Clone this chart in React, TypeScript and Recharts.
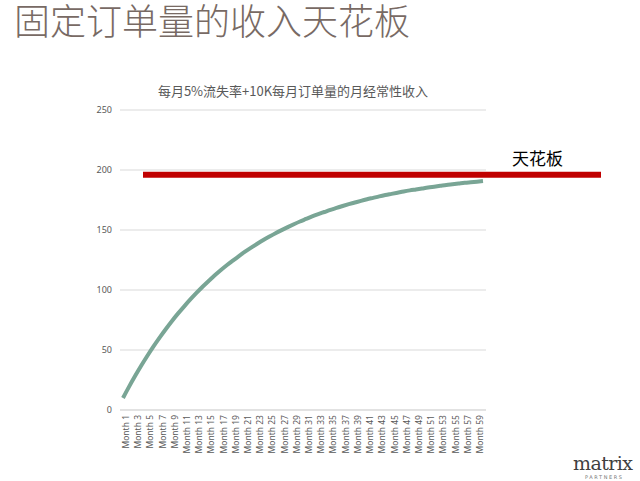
import { LineChart, Line, XAxis, YAxis, CartesianGrid, ReferenceLine } from 'recharts';

const months = [
  'Month 1', 'Month 2', 'Month 3', 'Month 4', 'Month 5', 'Month 6', 'Month 7', 'Month 8', 'Month 9', 'Month 10',
  'Month 11', 'Month 12', 'Month 13', 'Month 14', 'Month 15', 'Month 16', 'Month 17', 'Month 18', 'Month 19', 'Month 20',
  'Month 21', 'Month 22', 'Month 23', 'Month 24', 'Month 25', 'Month 26', 'Month 27', 'Month 28', 'Month 29', 'Month 30',
  'Month 31', 'Month 32', 'Month 33', 'Month 34', 'Month 35', 'Month 36', 'Month 37', 'Month 38', 'Month 39', 'Month 40',
  'Month 41', 'Month 42', 'Month 43', 'Month 44', 'Month 45', 'Month 46', 'Month 47', 'Month 48', 'Month 49', 'Month 50',
  'Month 51', 'Month 52', 'Month 53', 'Month 54', 'Month 55', 'Month 56', 'Month 57', 'Month 58', 'Month 59', 'Month 60',
];

// monthly recurring revenue
const mrr = [
  10, 19.5, 28.5, 37.1, 45.2, 53.0, 60.3, 67.3, 74.0, 80.3,
  86.2, 91.9, 97.3, 102.5, 107.3, 112.0, 116.4, 120.6, 124.5, 128.3,
  131.9, 135.3, 138.5, 141.6, 144.5, 147.3, 149.9, 152.4, 154.8, 157.1,
  159.2, 161.3, 163.2, 165.0, 166.8, 168.4, 170.0, 171.5, 172.9, 174.3,
  175.6, 176.8, 178.0, 179.1, 180.1, 181.1, 182.1, 183.0, 183.8, 184.6,
  185.4, 186.1, 186.8, 187.5, 188.1, 188.7, 189.3, 189.8, 190.3, 190.8,
];

const yTicks = [0, 50, 100, 150, 200, 250];
const ceiling = 196;

const data = months.map((name, i) => ({ name, MRR: mrr[i] }));

const CeilingShape = (p: any) => (
  <g>
    <line x1={p.x1 + 23} y1={p.y1} x2={p.x2 + 115} y2={p.y2} stroke="#c00000" strokeWidth={6} />
    <text x={p.x2 + 26} y={p.y1 - 10} fontSize={17} fill="#000" fontFamily="'Noto Sans CJK SC'">天花板</text>
  </g>
);

export default function App() {
  return (
    <div style={{ position: 'absolute', left: 0, top: 0, width: 640, height: 481, background: '#fff', overflow: 'hidden' }}>
      <div style={{ position: 'absolute', left: 14, top: 1, fontSize: 36, lineHeight: '36px', color: '#786a64', fontFamily: "'Noto Sans CJK SC'", fontWeight: 300, whiteSpace: 'nowrap' }}>
        固定订单量的收入天花板
      </div>
      <div style={{ position: 'absolute', left: 0, width: 586, top: 81, textAlign: 'center', fontSize: 13, color: '#595959', fontFamily: "'Noto Sans CJK SC'", whiteSpace: 'nowrap' }}>
        每月5%流失率+10K每月订单量的月经常性收入
      </div>
      <div style={{ position: 'absolute', left: 0, top: 0 }}>
        <LineChart width={640} height={481} data={data} margin={{ top: 110, right: 154, left: 90, bottom: 26 }}>
          <CartesianGrid vertical={false} stroke="#d9d9d9" />
          <XAxis
            dataKey="name"
            interval={1}
            angle={-90}
            textAnchor="end"
            height={45}
            tickLine={false}
            stroke="#d9d9d9"
            padding={{ left: 3, right: 3 }}
            tick={{ fontSize: 8.5, fill: '#595959', fontFamily: "'Noto Sans'", dy: -3 }}
          />
          <YAxis
            width={30}
            domain={[0, 250]}
            ticks={yTicks}
            axisLine={false}
            tickLine={false}
            tick={{ fontSize: 9, fill: '#595959', fontFamily: "'Noto Sans'" }}
          />
          <Line type="monotone" dataKey="MRR" stroke="#79a595" strokeWidth={4} dot={false} isAnimationActive={false} />
          <ReferenceLine y={ceiling} shape={CeilingShape} />
        </LineChart>
      </div>
      <div style={{ position: 'absolute', left: 573, top: 452, fontSize: 19, lineHeight: '22px', color: '#404040', fontFamily: "'DejaVu Serif'", letterSpacing: -0.6 }}>
        matrix
      </div>
      <div style={{ position: 'absolute', left: 585, top: 474, fontSize: 5, lineHeight: '6px', color: '#777', fontFamily: "'DejaVu Sans'", letterSpacing: 1.6 }}>
        PARTNERS
      </div>
    </div>
  );
}
